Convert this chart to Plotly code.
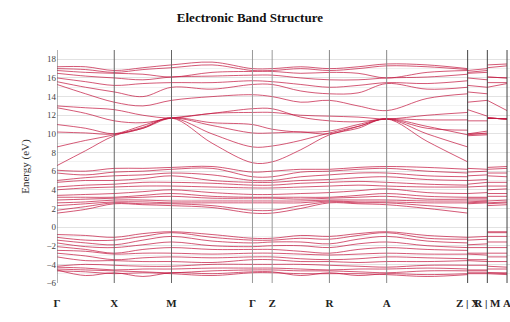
import plotly.graph_objects as go

# High-symmetry labels and positions (cumulative k-path distance)
k_labels = ["Γ", "X", "M", "Γ", "Z", "R", "A", "Z | X", "R | M", "A"]
k_ticks = [0.0, 0.5, 1.0, 1.707, 1.879, 2.379, 2.879, 3.586, 3.758, 3.930]

# sample points along main path Γ-X-M-Γ-Z-R-A-Z
path_k = [0.0, 0.25, 0.5, 0.75, 1.0, 1.354, 1.707, 1.879, 2.129, 2.379, 2.629, 2.879, 3.232, 3.586]
# short segments X-R and M-A
xr_k = [3.586, 3.758]
ma_k = [3.758, 3.930]

valence = [
    [-0.8, -0.9, -1.1, -0.7, -0.5, -0.8, -1.2, -1.2, -0.9, -1.0, -0.7, -0.5, -0.9, -1.1],
    [-1.1, -1.4, -1.4, -1.0, -0.6, -1.1, -1.4, -1.4, -1.2, -1.3, -0.9, -0.6, -1.2, -1.3],
    [-1.4, -1.7, -1.9, -1.4, -1.0, -1.5, -1.7, -1.6, -1.6, -1.8, -1.3, -1.0, -1.5, -1.7],
    [-1.7, -2.1, -2.2, -1.9, -1.6, -2.0, -2.1, -2.0, -2.0, -2.2, -1.8, -1.6, -2.0, -2.2],
    [-2.1, -2.4, -2.8, -2.4, -2.2, -2.4, -2.4, -2.4, -2.6, -2.8, -2.4, -2.2, -2.4, -2.5],
    [-2.5, -2.6, -2.9, -2.8, -2.8, -2.9, -2.8, -2.8, -2.9, -3.0, -2.9, -2.8, -2.9, -2.9],
    [-2.8, -3.1, -3.5, -3.3, -3.2, -3.3, -3.2, -3.2, -3.4, -3.5, -3.4, -3.2, -3.3, -3.4],
    [-3.2, -3.6, -3.6, -3.7, -3.7, -3.8, -3.5, -3.5, -3.7, -3.7, -3.8, -3.7, -3.7, -3.6],
    [-4.2, -4.0, -4.1, -4.2, -4.2, -4.0, -4.0, -4.0, -4.0, -4.1, -4.2, -4.3, -4.1, -4.1],
    [-4.3, -4.4, -4.6, -4.5, -4.5, -4.4, -4.4, -4.4, -4.5, -4.6, -4.5, -4.5, -4.4, -4.5],
    [-4.5, -4.6, -4.7, -4.8, -4.9, -4.7, -4.6, -4.6, -4.7, -4.7, -4.8, -4.9, -4.7, -4.7],
    [-4.6, -5.2, -4.9, -5.3, -4.9, -5.0, -4.8, -4.8, -5.2, -4.9, -5.2, -5.0, -5.1, -5.0],
    [-4.7, -4.8, -5.0, -4.9, -5.0, -5.2, -4.9, -4.9, -5.0, -5.0, -5.0, -5.1, -5.3, -5.1],
]

middle = [
    [1.5, 1.9, 2.5, 2.4, 2.3, 2.1, 1.5, 1.5, 2.0, 2.6, 2.5, 2.4, 2.0, 1.5],
    [1.8, 2.2, 2.6, 2.5, 2.5, 2.3, 1.8, 1.8, 2.3, 2.7, 2.6, 2.6, 2.3, 2.0],
    [2.3, 2.5, 2.7, 2.7, 2.6, 2.6, 2.6, 2.6, 2.6, 2.8, 2.7, 2.7, 2.6, 2.6],
    [2.6, 2.7, 2.9, 2.9, 2.8, 2.8, 2.8, 2.8, 2.8, 2.9, 2.9, 2.9, 2.8, 2.8],
    [2.9, 3.0, 3.1, 3.2, 3.3, 3.1, 3.1, 3.1, 3.0, 3.1, 3.2, 3.3, 3.0, 3.0],
    [3.2, 3.2, 3.2, 3.4, 3.6, 3.3, 3.2, 3.2, 3.2, 3.2, 3.4, 3.6, 3.3, 3.2],
    [3.4, 3.5, 3.6, 3.8, 4.0, 3.7, 3.5, 3.5, 3.6, 3.7, 3.9, 4.1, 3.7, 3.6],
    [4.0, 4.2, 4.3, 4.4, 4.4, 4.3, 4.2, 4.2, 4.3, 4.4, 4.5, 4.4, 4.3, 4.3],
    [4.3, 4.5, 4.6, 4.8, 4.8, 4.7, 4.5, 4.5, 4.7, 4.8, 4.9, 4.8, 4.6, 4.5],
    [4.8, 5.0, 5.0, 5.2, 5.5, 5.0, 4.8, 4.8, 5.0, 5.1, 5.3, 5.4, 5.1, 5.0],
    [5.0, 5.3, 5.5, 5.6, 5.8, 5.6, 5.0, 5.0, 5.4, 5.6, 5.8, 5.8, 5.5, 5.4],
    [5.8, 5.6, 5.9, 6.0, 6.2, 6.3, 5.4, 5.4, 5.9, 6.0, 6.2, 6.3, 6.0, 5.8],
    [6.1, 6.0, 6.3, 6.3, 6.4, 6.5, 5.9, 6.0, 6.2, 6.2, 6.4, 6.5, 6.4, 6.2],
]

upper = [
    [6.6, 8.2, 9.8, 10.6, 11.7, 9.0, 6.9, 7.0, 8.3, 9.9, 10.6, 11.6, 9.2, 7.0],
    [8.6, 9.3, 9.9, 10.7, 11.7, 10.0, 8.6, 8.7, 9.3, 10.1, 10.8, 11.6, 10.0, 8.6],
    [10.2, 10.1, 10.0, 10.9, 11.7, 10.9, 10.1, 10.1, 10.2, 10.0, 10.8, 11.6, 10.8, 9.9],
    [11.0, 10.6, 10.0, 10.6, 11.7, 11.2, 11.0, 10.5, 10.2, 10.3, 11.0, 11.6, 10.6, 10.4],
    [12.8, 12.2, 11.4, 11.2, 11.7, 12.2, 12.7, 12.7, 11.8, 11.4, 11.3, 11.6, 11.5, 11.5],
    [13.0, 12.8, 12.6, 12.0, 11.7, 12.2, 12.3, 12.3, 12.0, 11.9, 11.8, 11.6, 12.0, 12.3],
    [15.3, 14.3, 13.4, 13.0, 13.6, 14.0, 14.2, 14.0, 13.4, 13.6, 13.0, 12.5, 13.8, 14.3],
    [15.6, 15.0, 14.5, 14.0, 15.0, 14.8, 15.3, 15.3, 14.6, 14.3, 14.4, 15.4, 14.8, 15.0],
    [16.0, 15.6, 15.2, 15.4, 15.5, 15.5, 15.7, 15.6, 15.3, 15.0, 15.2, 15.5, 15.4, 15.7],
    [16.5, 16.2, 16.0, 15.8, 16.1, 16.2, 16.3, 16.3, 16.0, 15.8, 15.8, 16.0, 16.1, 16.4],
    [16.8, 16.6, 16.5, 16.4, 16.1, 16.6, 16.7, 16.7, 16.5, 16.6, 16.5, 16.0, 16.6, 16.8],
    [17.0, 16.9, 16.6, 16.9, 17.1, 17.4, 16.8, 16.8, 17.0, 16.8, 17.0, 17.3, 17.2, 16.9],
    [17.2, 17.2, 16.8, 17.1, 17.4, 17.7, 17.0, 17.0, 17.2, 17.0, 17.2, 17.5, 17.4, 17.0],
]

bands = valence + middle + upper

SERIF = "Liberation Serif, Times New Roman, serif"
LINE_COLOR = "rgba(195, 25, 65, 0.72)"

fig = go.Figure()
for b in bands:
    xs = list(path_k) + [None] + xr_k + [None] + ma_k
    ys = list(b) + [None] + [b[2], b[9]] + [None] + [b[4], b[11]]
    fig.add_trace(go.Scatter(
        x=xs, y=ys, mode="lines",
        line=dict(color=LINE_COLOR, width=1, shape="spline", smoothing=1.0),
        connectgaps=False, hoverinfo="skip", showlegend=False,
    ))

# vertical lines at the high-symmetry points
line_colors = ["#666", "#666", "#666", "#999", "#999", "#888", "#888", "#444", "#444", "#444"]
for kx, c in zip(k_ticks, line_colors):
    fig.add_shape(type="line", xref="x", yref="paper", x0=kx, x1=kx, y0=0, y1=1,
                  line=dict(color=c, width=1), layer="above")

fig.update_layout(
    width=510, height=322,
    margin=dict(l=57, r=0, t=50, b=39),
    paper_bgcolor="white", plot_bgcolor="white",
    title=dict(text="<b>Electronic Band Structure</b>", x=0.49, xref="container",
               y=0.945, yref="container", xanchor="center", yanchor="middle",
               font=dict(family=SERIF, size=13, color="#111")),
    showlegend=False,
)

fig.update_xaxes(
    range=[0, 3.956], tickvals=k_ticks, ticktext=[f"<b>{t}</b>" for t in k_labels],
    tickangle=0, showgrid=False, ticklabeloverflow="allow",
    ticks="outside", ticklen=10, tickcolor="rgba(0,0,0,0)",
    tickfont=dict(family=SERIF, size=11, color="#222"),
    zeroline=False, showline=False,
)

fig.update_yaxes(
    range=[-6, 19], tickvals=list(range(-6, 19, 2)),
    showgrid=True, gridcolor="#e2e2e2", gridwidth=1,
    minor=dict(dtick=1, showgrid=True, gridcolor="#f1f1f1"),
    zeroline=False, showline=False,
    ticks="", tickfont=dict(family=SERIF, size=9, color="#444"),
    title=dict(text="Energy (eV)", font=dict(family=SERIF, size=11, color="#333"), standoff=14),
)

fig.write_html("out.html")
